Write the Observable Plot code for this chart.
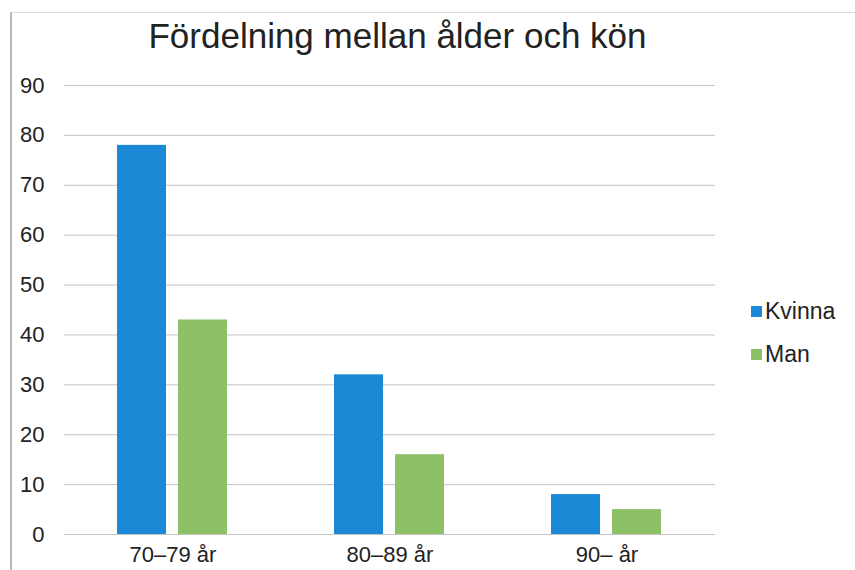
<!DOCTYPE html>
<html><head><meta charset="utf-8">
<script src="https://cdn.jsdelivr.net/npm/d3@7"></script>
<script src="https://cdn.jsdelivr.net/npm/@observablehq/plot@0.6"></script>
<style>
body{margin:0;background:#fff;}
#wrap{position:relative;width:855px;height:570px;overflow:hidden;font-family:"Liberation Sans",Arial,sans-serif;color:#222;background:#fff;}
#frame{position:absolute;left:10px;top:12px;right:-5px;bottom:-5px;border-left:2px solid #b8b8b8;border-top:1px solid #dcdcdc;}
#title{position:absolute;left:0;width:795px;top:16px;text-align:center;font-size:35px;line-height:40px;color:#222;}
#chart{position:absolute;left:0;top:0;}
#legend{position:absolute;left:751px;top:290px;font-size:23px;line-height:43px;color:#222;}
.item{display:flex;align-items:center;}
.sw{width:11px;height:11px;margin-right:3px;}
</style>
</head><body>
<div id="wrap">
  <div id="frame"></div>
  <div id="chart"></div>
  <div id="title">Fördelning mellan ålder och kön</div>
  <div id="legend"></div>
</div>
<script>
const categories = ["70–79 år", "80–89 år", "90– år"];
const series = ["Kvinna", "Man"];
const kvinna = [78, 32, 8];
const man = [43, 16, 5];
const yTicks = [0, 10, 20, 30, 40, 50, 60, 70, 80, 90];
const colors = ["#1b89d6", "#8cc168"];

const values = {Kvinna: kvinna, Man: man};
const data = categories.flatMap((c, i) => series.map(s => ({cat: c, ser: s, value: values[s][i]})));

const plot = Plot.plot({
  width: 855,
  height: 570,
  marginTop: 85,
  marginBottom: 36,
  marginLeft: 64,
  marginRight: 140,
  style: {fontFamily: '"Liberation Sans", Arial, sans-serif', fontSize: "22px", color: "#222", background: "transparent", overflow: "visible"},
  fx: {domain: categories, padding: 0, label: null, axis: "bottom", tickSize: 0, tickPadding: 12},
  x: {domain: series, paddingInner: 0.1935, paddingOuter: 0.847, axis: null},
  y: {domain: [0, 90], ticks: yTicks, tickSize: 0, tickPadding: 20, label: null},
  color: {domain: series, range: colors},
  marks: [
    Plot.ruleY(yTicks, {stroke: "#c4c4c4", strokeWidth: 1}),
    Plot.barY(data, {fx: "cat", x: "ser", y: "value", fill: "ser"})
  ]
});
document.getElementById("chart").appendChild(plot);

const legend = document.getElementById("legend");
series.forEach((s, i) => {
  const item = document.createElement("div");
  item.className = "item";
  const sw = document.createElement("span");
  sw.className = "sw";
  sw.style.background = colors[i];
  const t = document.createElement("span");
  t.textContent = s;
  item.appendChild(sw);
  item.appendChild(t);
  legend.appendChild(item);
});
</script>
</body></html>
